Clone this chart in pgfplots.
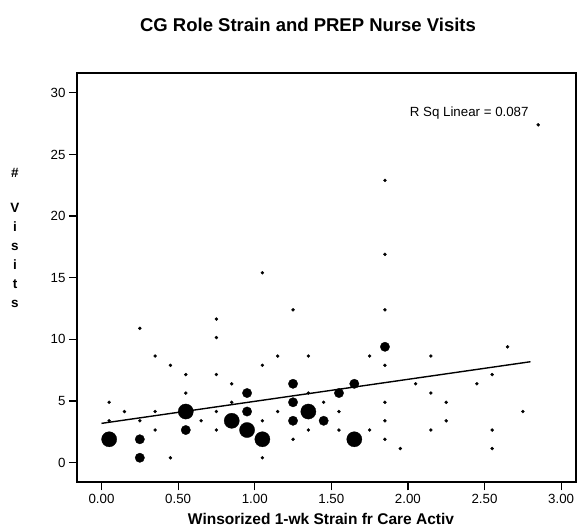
\documentclass[border=0pt]{standalone}
\usepackage{pgfplots}
\pgfplotsset{compat=1.18}
\usepackage{fontspec}
\setmainfont{Liberation Sans}
\begin{document}
\begin{tikzpicture}[x=1pt,y=1pt]
\path[use as bounding box] (0,0) rectangle (578,531);
\begin{axis}[
  at={(77pt,48.7pt)}, anchor=south west,
  scale only axis, width=499pt, height=409.6pt,
  xmin=-0.16, xmax=3.097, ymin=-1.59, ymax=31.63,
  axis line style={line width=1.8pt},
  xtick={0,0.5,1,1.5,2,2.5,3},
  xticklabels={0.00,0.50,1.00,1.50,2.00,2.50,3.00},
  ytick={0,5,10,15,20,25,30},
  yticklabels={0,5,10,15,20,25,30},
  tick align=outside, major tick length=8pt,
  tick style={black, line width=1.2pt},
  tick pos=left,
  ticklabel style={font=\fontsize{13.3}{13.3}\selectfont},
  clip=false,
]
\addplot[only marks, mark=*, mark size=1.5pt, mark options={draw=black, fill=black, line width=0.4pt}] coordinates {
(0.05,4.9) (0.05,3.4) (0.15,4.15) (0.25,10.9) (0.25,3.4)
(0.35,8.65) (0.35,4.15) (0.35,2.65) (0.45,7.9) (0.45,0.4)
(0.55,7.15) (0.55,5.65) (0.65,3.4) (0.75,11.65) (0.75,10.15)
(0.75,7.15) (0.75,4.15) (0.75,2.65) (0.85,6.4) (0.85,4.9)
(1.05,15.4) (1.05,7.9) (1.05,3.4) (1.05,0.4) (1.15,8.65)
(1.15,4.15) (1.25,12.4) (1.25,1.9) (1.35,8.65) (1.35,5.65)
(1.35,2.65) (1.45,4.9) (1.55,4.15) (1.55,2.65) (1.75,8.65)
(1.75,2.65) (1.85,22.9) (1.85,16.9) (1.85,12.4) (1.85,7.9)
(1.85,4.9) (1.85,3.4) (1.85,1.9) (1.95,1.15) (2.05,6.4)
(2.15,8.65) (2.15,5.65) (2.15,2.65) (2.25,4.9) (2.25,3.4)
(2.45,6.4) (2.55,7.15) (2.55,2.65) (2.55,1.15) (2.65,9.4)
(2.75,4.15) (2.85,27.4)
};
\addplot[only marks, mark=*, mark size=4.7pt, mark options={draw=black, fill=black, line width=0.3pt}] coordinates {
(0.25,1.9) (0.25,0.4) (0.55,2.65) (0.95,5.65) (0.95,4.15)
(1.25,6.4) (1.25,4.9) (1.25,3.4) (1.45,3.4) (1.55,5.65)
(1.65,6.4) (1.85,9.4)
};
\addplot[only marks, mark=*, mark size=7.6pt, mark options={draw=black, fill=black, line width=0.3pt}] coordinates {
(0.05,1.9) (0.55,4.15) (0.85,3.4) (0.95,2.65) (1.05,1.9)
(1.35,4.15) (1.65,1.9)
};
\addplot[black, line width=1.4pt] coordinates {(0,3.19) (2.80,8.19)};
\node[font=\fontsize{13.3}{14}\selectfont] at (axis cs:2.40,28.34) {R Sq Linear = 0.087};
\end{axis}
\node[font=\bfseries\fontsize{18.5}{20}\selectfont] at (308,506) {CG Role Strain and PREP Nurse Visits};
\node[font=\bfseries\fontsize{15.5}{16}\selectfont, anchor=base, inner sep=0pt] at (321,6.3) {Winsorized 1-wk Strain fr Care Activ};
\foreach \ch/\yy in {\#/353, V/318, i/299.2, s/280.4, i/261.6, t/242.8, s/224}
  \node[font=\bfseries\fontsize{13.5}{14}\selectfont, anchor=base, inner sep=0pt] at (15,\yy) {\ch};
\end{tikzpicture}
\end{document}
